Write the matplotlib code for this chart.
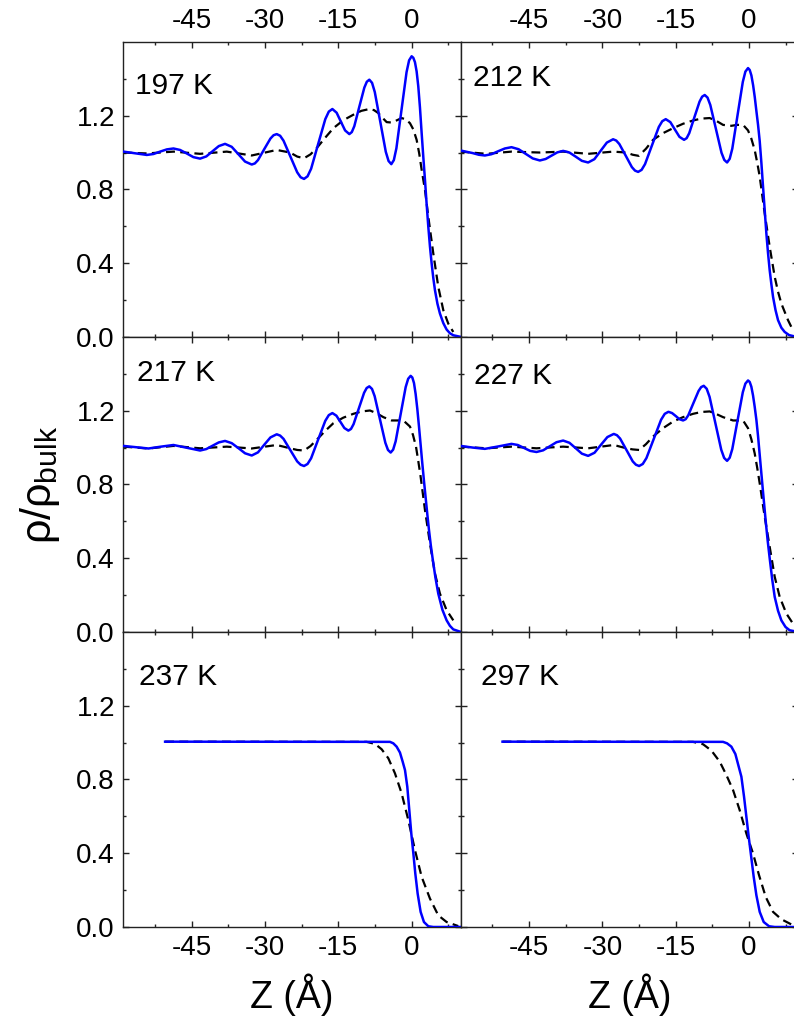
import matplotlib
matplotlib.use("Agg")
import matplotlib.pyplot as plt
from matplotlib.ticker import MultipleLocator, FixedLocator, FormatStrFormatter

plt.rcParams["font.family"] = ["Liberation Sans", "DejaVu Sans"]
plt.rcParams["mathtext.fontset"] = "custom"
plt.rcParams["mathtext.rm"] = "Liberation Sans"
plt.rcParams["mathtext.it"] = "Liberation Sans"
plt.rcParams["axes.unicode_minus"] = False

# ---- density profiles: Z (Angstrom), rho/rho_bulk ----
# 197 K
z_197_solid = [-58.97, -56.60, -54.19, -52.83, -51.47, -50.10, -48.74, -47.38, -46.02, -44.65,
               -43.29, -42.01, -40.74, -39.46, -38.18, -36.82, -35.45, -34.09, -32.72, -32.08,
               -31.44, -30.17, -28.89, -28.25, -27.61, -26.91, -26.21, -24.82, -23.42, -22.72,
               -22.02, -21.30, -20.57, -19.12, -17.67, -16.95, -16.22, -15.35, -14.49, -13.62,
               -12.75, -12.24, -11.73, -10.71, -9.68, -9.17, -8.66, -8.10, -7.54, -6.41,
               -5.29, -4.72, -4.16, -3.64, -3.12, -2.08, -1.04, -0.52, 0.0, 0.34,
               0.68, 1.02, 1.36, 1.70, 2.05, 2.39, 2.73, 3.07, 3.41, 3.75,
               4.09, 4.43, 4.77, 5.28, 5.79, 6.48, 7.16, 7.84, 8.52, 10.09]
r_197_solid = [1.005, 0.996, 0.987, 0.992, 1.005, 1.017, 1.022, 1.014, 0.995, 0.975,
               0.967, 0.979, 1.007, 1.035, 1.047, 1.031, 0.991, 0.951, 0.935, 0.941,
               0.959, 1.018, 1.076, 1.094, 1.100, 1.091, 1.064, 0.979, 0.893, 0.866,
               0.857, 0.871, 0.912, 1.047, 1.181, 1.222, 1.236, 1.216, 1.168, 1.120,
               1.100, 1.111, 1.143, 1.248, 1.352, 1.384, 1.395, 1.378, 1.328, 1.166,
               1.004, 0.954, 0.937, 0.959, 1.023, 1.230, 1.436, 1.500, 1.522, 1.514,
               1.490, 1.440, 1.359, 1.245, 1.105, 0.975, 0.851, 0.720, 0.598, 0.490,
               0.399, 0.320, 0.254, 0.180, 0.127, 0.075, 0.040, 0.020, 0.009, 0.0]
z_197_dash = [-58.97, -54.19, -48.74, -43.29, -37.83, -32.72, -27.61, -24.88, -23.40, -22.02,
              -20.70, -19.43, -17.70, -16.02, -14.00, -11.93, -10.30, -8.66, -7.70, -6.82,
              -5.95, -5.11, -4.25, -3.41, -2.05, -1.20, -0.34, 0.35, 1.02, 1.55,
              2.05, 2.73, 3.41, 4.43, 5.45, 6.48, 7.50, 8.52]
r_197_dash = [1.000, 0.995, 1.005, 0.993, 1.005, 0.984, 1.014, 1.000, 0.978, 0.969,
              0.990, 1.024, 1.080, 1.132, 1.175, 1.205, 1.226, 1.236, 1.230, 1.214,
              1.188, 1.165, 1.163, 1.170, 1.187, 1.180, 1.159, 1.125, 1.069, 0.995,
              0.906, 0.797, 0.652, 0.453, 0.272, 0.145, 0.072, 0.027]

# 212 K
z_212_solid = [-59.03, -56.54, -55.30, -54.05, -52.69, -51.33, -49.96, -48.60, -47.15, -45.70,
               -44.25, -42.80, -41.61, -40.42, -39.22, -38.03, -36.75, -35.48, -34.20, -32.92,
               -31.64, -30.37, -29.09, -27.81, -27.17, -26.53, -25.25, -23.97, -23.33, -22.69,
               -21.98, -21.28, -19.87, -18.45, -17.75, -17.04, -16.10, -15.17, -14.23, -13.29,
               -12.76, -12.23, -11.18, -10.12, -9.59, -9.06, -8.49, -7.92, -6.78, -5.63,
               -5.06, -4.49, -3.95, -3.42, -2.35, -1.27, -0.74, -0.20, 0.14, 0.49,
               0.84, 1.18, 1.51, 1.85, 2.19, 2.53, 2.87, 3.21, 3.55, 3.89,
               4.23, 4.58, 4.92, 5.43, 5.94, 6.62, 7.30, 8.20, 9.14, 10.10]
r_212_solid = [1.011, 0.997, 0.988, 0.984, 0.991, 1.007, 1.022, 1.029, 1.018, 0.993,
               0.968, 0.957, 0.965, 0.983, 1.001, 1.009, 1.000, 0.978, 0.955, 0.946,
               0.964, 1.009, 1.054, 1.072, 1.065, 1.046, 0.984, 0.921, 0.902, 0.895,
               0.906, 0.937, 1.038, 1.139, 1.170, 1.181, 1.165, 1.125, 1.085, 1.069,
               1.078, 1.105, 1.191, 1.276, 1.303, 1.312, 1.298, 1.258, 1.129, 0.999,
               0.960, 0.946, 0.966, 1.021, 1.202, 1.383, 1.439, 1.458, 1.448, 1.418,
               1.365, 1.300, 1.225, 1.150, 1.062, 0.945, 0.815, 0.688, 0.562, 0.455,
               0.362, 0.285, 0.217, 0.145, 0.091, 0.050, 0.027, 0.010, 0.004, 0.0]
z_212_dash = [-59.03, -53.71, -48.60, -42.80, -38.03, -32.92, -27.81, -25.08, -23.80, -22.56,
              -21.10, -19.63, -17.60, -15.54, -13.50, -11.45, -9.75, -8.04, -6.70, -5.31,
              -3.61, -2.40, -1.22, -0.20, 0.48, 1.16, 1.68, 2.19, 3.21, 4.23,
              5.26, 5.94, 6.62, 7.98, 9.00]
r_212_dash = [1.005, 0.993, 1.005, 1.000, 1.005, 0.993, 1.005, 1.000, 0.988, 0.982,
              1.020, 1.069, 1.105, 1.132, 1.156, 1.174, 1.184, 1.187, 1.172, 1.150,
              1.145, 1.150, 1.150, 1.120, 1.075, 1.014, 0.945, 0.870, 0.670, 0.489,
              0.326, 0.245, 0.181, 0.091, 0.036]

# 217 K
z_217_solid = [-58.97, -56.41, -53.85, -51.30, -48.74, -46.02, -43.29, -42.01, -40.74, -39.46,
               -38.18, -36.82, -35.45, -34.09, -32.72, -31.44, -30.17, -28.89, -27.61, -26.91,
               -26.21, -24.82, -23.42, -22.72, -22.02, -21.30, -20.57, -19.12, -17.67, -16.95,
               -16.22, -15.40, -14.59, -13.77, -12.95, -12.41, -11.88, -10.81, -9.73, -9.20,
               -8.66, -8.11, -7.57, -6.48, -5.38, -4.84, -4.29, -3.78, -3.27, -2.25,
               -1.22, -0.71, -0.20, 0.14, 0.48, 0.82, 1.16, 1.50, 1.84, 2.18,
               2.52, 2.86, 3.20, 3.54, 3.92, 4.29, 4.87, 5.45, 6.30, 7.16,
               7.84, 8.52, 10.09]
r_217_solid = [1.009, 1.002, 0.995, 1.005, 1.014, 0.999, 0.984, 0.992, 1.010, 1.028,
               1.036, 1.024, 0.997, 0.969, 0.957, 0.974, 1.015, 1.055, 1.072, 1.065,
               1.047, 0.986, 0.925, 0.907, 0.900, 0.911, 0.942, 1.044, 1.145, 1.176,
               1.187, 1.173, 1.140, 1.106, 1.092, 1.101, 1.127, 1.212, 1.297, 1.323,
               1.332, 1.318, 1.279, 1.153, 1.026, 0.987, 0.973, 0.989, 1.034, 1.181,
               1.328, 1.373, 1.389, 1.380, 1.350, 1.290, 1.210, 1.115, 1.015, 0.915,
               0.820, 0.730, 0.640, 0.555, 0.470, 0.399, 0.295, 0.208, 0.120, 0.063,
               0.033, 0.014, 0.0]
z_217_dash = [-58.97, -53.85, -48.74, -43.29, -37.83, -32.72, -27.61, -24.88, -23.40, -22.02,
              -20.70, -19.43, -17.70, -16.02, -14.00, -11.93, -10.20, -8.52, -7.15, -5.79,
              -4.09, -1.70, -0.34, 0.28, 0.89, 1.37, 1.84, 2.73, 3.75, 4.77,
              5.79, 7.16, 8.52]
r_217_dash = [1.005, 0.995, 1.009, 0.996, 1.005, 0.995, 1.014, 0.996, 0.987, 0.984,
              1.008, 1.042, 1.090, 1.132, 1.162, 1.183, 1.196, 1.201, 1.186, 1.165,
              1.147, 1.147, 1.114, 1.068, 1.005, 0.925, 0.842, 0.661, 0.480, 0.317,
              0.208, 0.118, 0.063]

# 227 K
z_227_solid = [-59.03, -56.54, -54.05, -51.33, -48.60, -47.32, -46.05, -44.77, -43.49, -42.13,
               -40.76, -39.40, -38.03, -36.75, -35.48, -34.20, -32.92, -31.61, -30.30, -28.98,
               -27.67, -27.02, -26.38, -25.08, -23.79, -23.14, -22.49, -21.74, -20.99, -19.49,
               -17.99, -17.24, -16.49, -15.74, -14.99, -14.24, -13.49, -12.96, -12.43, -11.38,
               -10.32, -9.79, -9.26, -8.66, -8.07, -6.88, -5.68, -5.09, -4.49, -3.95,
               -3.42, -2.35, -1.27, -0.74, -0.20, 0.14, 0.48, 0.82, 1.16, 1.51,
               1.85, 2.19, 2.46, 2.73, 3.08, 3.42, 3.82, 4.23, 4.75, 5.26,
               5.94, 6.62, 7.47, 8.32, 10.10]
r_227_solid = [1.009, 1.000, 0.993, 1.006, 1.020, 1.014, 0.998, 0.982, 0.976, 0.985,
               1.007, 1.029, 1.038, 1.026, 0.997, 0.967, 0.955, 0.972, 1.015, 1.057,
               1.074, 1.067, 1.049, 0.987, 0.925, 0.907, 0.900, 0.911, 0.943, 1.047,
               1.151, 1.183, 1.194, 1.187, 1.171, 1.154, 1.147, 1.154, 1.175, 1.241,
               1.307, 1.328, 1.335, 1.319, 1.275, 1.132, 0.988, 0.944, 0.928, 0.945,
               0.992, 1.146, 1.300, 1.347, 1.364, 1.356, 1.330, 1.283, 1.222, 1.150,
               1.062, 0.960, 0.880, 0.800, 0.698, 0.600, 0.495, 0.400, 0.285, 0.190,
               0.115, 0.063, 0.027, 0.009, 0.0]
z_227_dash = [-59.03, -53.71, -48.60, -43.49, -38.03, -32.92, -27.67, -25.08, -23.80, -22.49,
              -21.10, -19.63, -17.60, -15.54, -13.50, -11.45, -9.75, -8.04, -6.70, -5.31,
              -3.27, -1.22, -0.20, 0.48, 1.16, 1.68, 2.19, 3.21, 4.23, 5.26,
              6.28, 7.64, 9.00]
r_227_dash = [1.005, 0.996, 1.005, 0.996, 1.005, 0.996, 1.014, 0.996, 0.990, 0.987,
              1.018, 1.060, 1.105, 1.141, 1.165, 1.183, 1.193, 1.196, 1.182, 1.165,
              1.147, 1.147, 1.105, 1.045, 0.969, 0.890, 0.806, 0.625, 0.462, 0.299,
              0.190, 0.100, 0.045]

# 237 K
z_237_solid = [-50.45, -4.43, -3.75, -3.07, -2.39, -1.84, -1.36, -0.89, -0.48, -0.07,
               0.34, 0.75, 1.23, 1.84, 2.52, 3.41, 4.43, 10.09]
r_237_solid = [1.005, 1.004, 0.996, 0.978, 0.946, 0.897, 0.851, 0.761, 0.634, 0.507,
               0.402, 0.290, 0.181, 0.082, 0.027, 0.004, 0.0, 0.0]
z_237_dash = [-50.45, -9.20, -7.50, -6.14, -4.77, -3.41, -2.05, -0.68, 0.68, 2.05,
              3.75, 5.45, 7.16, 9.54]
r_237_dash = [1.005, 1.004, 0.993, 0.964, 0.915, 0.833, 0.725, 0.580, 0.417, 0.272,
              0.154, 0.063, 0.027, 0.005]

# 297 K
z_297_solid = [-50.44, -5.31, -4.49, -3.61, -2.79, -2.11, -1.56, -1.02, -0.54, -0.06,
               0.41, 0.96, 1.51, 2.19, 3.01, 4.10, 5.26, 9.14]
r_297_solid = [1.005, 1.004, 0.996, 0.978, 0.938, 0.870, 0.815, 0.707, 0.598, 0.489,
               0.389, 0.272, 0.172, 0.082, 0.027, 0.004, 0.0, 0.0]
z_297_dash = [-50.44, -11.44, -9.40, -7.70, -6.00, -4.63, -3.27, -1.91, -0.54, 0.82,
              2.05, 3.42, 4.92, 6.62, 8.66]
r_297_dash = [1.005, 1.004, 0.991, 0.957, 0.897, 0.824, 0.743, 0.634, 0.507, 0.399,
              0.281, 0.163, 0.082, 0.042, 0.014]

temps = ["197 K", "212 K", "217 K", "227 K", "237 K", "297 K"]
solid = [(z_197_solid, r_197_solid), (z_212_solid, r_212_solid), (z_217_solid, r_217_solid),
         (z_227_solid, r_227_solid), (z_237_solid, r_237_solid), (z_297_solid, r_297_solid)]
dashed = [(z_197_dash, r_197_dash), (z_212_dash, r_212_dash), (z_217_dash, r_217_dash),
          (z_227_dash, r_227_dash), (z_237_dash, r_237_dash), (z_297_dash, r_297_dash)]
# label positions in axes fraction (x left, y centre)
label_pos = [(0.035, 0.849), (0.037, 0.876), (0.040, 0.877),
             (0.040, 0.867), (0.046, 0.848), (0.060, 0.848)]

fig = plt.figure(figsize=(7.94, 10.17), dpi=100)

left0, left1 = 0.1553, 0.5802
width, height = 0.4253, 0.2901
bottoms = [0.6687, 0.3786, 0.0885]

for i in range(6):
    row, col = divmod(i, 2)
    ax = fig.add_axes([left0 if col == 0 else left1, bottoms[row], width, height])

    zd, rd = dashed[i]
    zs, rs = solid[i]
    ax.plot(zd, rd, color="black", lw=1.6, linestyle=(0, (4.0, 2.4)), zorder=2)
    ax.plot(zs, rs, color="#0000ff", lw=1.8, zorder=3, solid_joinstyle="round")

    ax.set_xlim(-59.0, 10.1)
    ax.set_ylim(0, 1.6)
    ax.xaxis.set_major_locator(FixedLocator([-45, -30, -15, 0]))
    ax.xaxis.set_minor_locator(MultipleLocator(7.5))
    ax.yaxis.set_major_locator(FixedLocator([0.0, 0.4, 0.8, 1.2]))
    ax.yaxis.set_minor_locator(FixedLocator([0.2, 0.6, 1.0, 1.4]))
    ax.yaxis.set_major_formatter(FormatStrFormatter("%.1f"))

    ax.tick_params(which="both", direction="in", top=True, right=True,
                   width=1.0, labelsize=20, color="#222222")
    ax.tick_params(which="major", length=4)
    ax.tick_params(which="minor", length=2.5)
    ax.tick_params(axis="y", pad=6)
    ax.tick_params(axis="x", pad=6)
    ax.tick_params(labelbottom=(row == 2), labeltop=(row == 0),
                   labelleft=(col == 0))
    for sp in ax.spines.values():
        sp.set_linewidth(1.0)
        sp.set_color("#222222")

    lx, ly = label_pos[i]
    ax.text(lx, ly, temps[i], transform=ax.transAxes, fontsize=21.5,
            ha="left", va="center")

fig.text(292 / 794, 1 - 1008 / 1017, "Z (Å)", fontsize=27, ha="center", va="baseline")
fig.text(630 / 794, 1 - 1008 / 1017, "Z (Å)", fontsize=27, ha="center", va="baseline")
fig.text(40 / 794, 1 - 485 / 1017, r"$ρ/ρ_{bulk}$", fontsize=31, rotation=90,
         ha="center", va="center")

fig.savefig("out.png", dpi=100)
